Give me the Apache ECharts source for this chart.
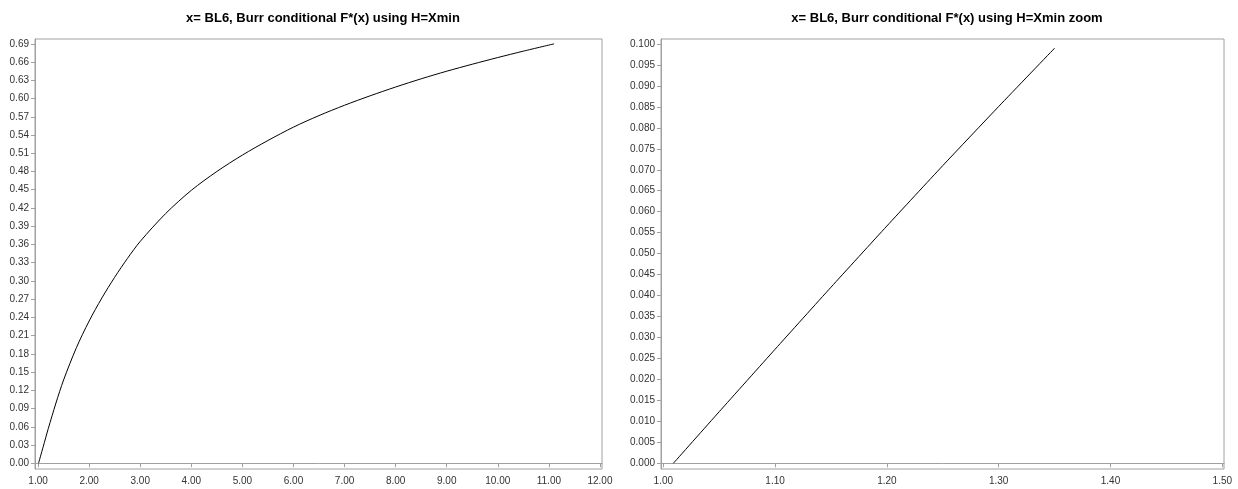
<!DOCTYPE html>
<html>
<head>
<meta charset="utf-8">
<script src="https://cdn.jsdelivr.net/npm/echarts@6/dist/echarts.min.js"></script>
<style>
  html, body { margin: 0; padding: 0; background: #fff; }
  #chart { width: 1238px; height: 489px; }
</style>
</head>
<body>
<div id="chart"></div>
<script>
// Full range of the conditional Burr CDF
const fullX = [1.009, 1.1, 1.2, 1.35, 1.5, 1.75, 2.0, 2.25, 2.5, 2.75, 3.0, 3.5, 4.0, 4.5, 5.0, 5.5, 6.0, 6.5, 7.0, 7.5, 8.0, 8.5, 9.0, 9.5, 10.0, 10.5, 11.1];
const fullY = [0.0, 0.027, 0.057, 0.099, 0.137, 0.190, 0.234, 0.272, 0.306, 0.337, 0.365, 0.411, 0.449, 0.480, 0.507, 0.531, 0.553, 0.572, 0.589, 0.6045, 0.619, 0.6325, 0.645, 0.6565, 0.6675, 0.678, 0.690];

// Zoomed-in lower tail
const zoomX = [1.009, 1.05, 1.1, 1.15, 1.2, 1.25, 1.3, 1.35];
const zoomY = [0.0, 0.0123, 0.0272, 0.0420, 0.0566, 0.0710, 0.0851, 0.0990];

// Tick values
const fullXTicks = [1, 2, 3, 4, 5, 6, 7, 8, 9, 10, 11, 12];
const fullYTicks = Array.from({ length: 24 }, (_, i) => +(i * 0.03).toFixed(2));
const zoomXTicks = [1.0, 1.1, 1.2, 1.3, 1.4, 1.5];
const zoomYTicks = Array.from({ length: 21 }, (_, i) => +(i * 0.005).toFixed(3));

const titles = [
  'x= BL6, Burr conditional F*(x) using H=Xmin',
  'x= BL6, Burr conditional F*(x) using H=Xmin zoom'
];

const axisColor = '#a0a0a0';
const fontFamily = 'Liberation Sans, Arial, sans-serif';
const labelStyle = { color: '#333', fontSize: 10, fontFamily };

function valueAxis(gridIndex, min, max, ticks, digits, isY) {
  return {
    type: 'value',
    gridIndex,
    min, max,
    splitLine: { show: false },
    axisLine: { show: true, lineStyle: { color: axisColor, width: 1 } },
    axisTick: { show: true, length: 4, customValues: ticks, lineStyle: { color: axisColor } },
    axisLabel: Object.assign({
      customValues: ticks,
      margin: isY ? 6 : 7,
      formatter: v => v.toFixed(digits)
    }, labelStyle)
  };
}

const chart = echarts.init(document.getElementById('chart'), null, { renderer: 'canvas' });
chart.setOption({
  animation: false,
  backgroundColor: '#fff',
  title: [
    { text: titles[0], left: 318, top: 7, textAlign: 'center',
      textStyle: { fontSize: 13, fontWeight: 'bold', color: '#000', fontFamily } },
    { text: titles[1], left: 942, top: 7, textAlign: 'center',
      textStyle: { fontSize: 13, fontWeight: 'bold', color: '#000', fontFamily } }
  ],
  grid: [
    { left: 35, top: 39, width: 567, height: 430, show: true, borderColor: axisColor, borderWidth: 1, containLabel: false },
    { left: 661, top: 39, width: 563, height: 430, show: true, borderColor: axisColor, borderWidth: 1, containLabel: false }
  ],
  xAxis: [
    valueAxis(0, 0.94, 12.04, fullXTicks, 2, false),
    valueAxis(1, 0.99794, 1.50152, zoomXTicks, 2, false)
  ],
  yAxis: [
    valueAxis(0, -0.0095, 0.698, fullYTicks, 2, true),
    valueAxis(1, -0.00136, 0.10119, zoomYTicks, 3, true)
  ],
  series: [
    {
      type: 'line', xAxisIndex: 0, yAxisIndex: 0,
      data: fullX.map((x, i) => [x, fullY[i]]),
      smooth: 0.3, showSymbol: false,
      lineStyle: { color: '#000', width: 1 }
    },
    {
      type: 'line', xAxisIndex: 1, yAxisIndex: 1,
      data: zoomX.map((x, i) => [x, zoomY[i]]),
      smooth: 0.2, showSymbol: false,
      lineStyle: { color: '#000', width: 1 }
    }
  ]
});
</script>
</body>
</html>
